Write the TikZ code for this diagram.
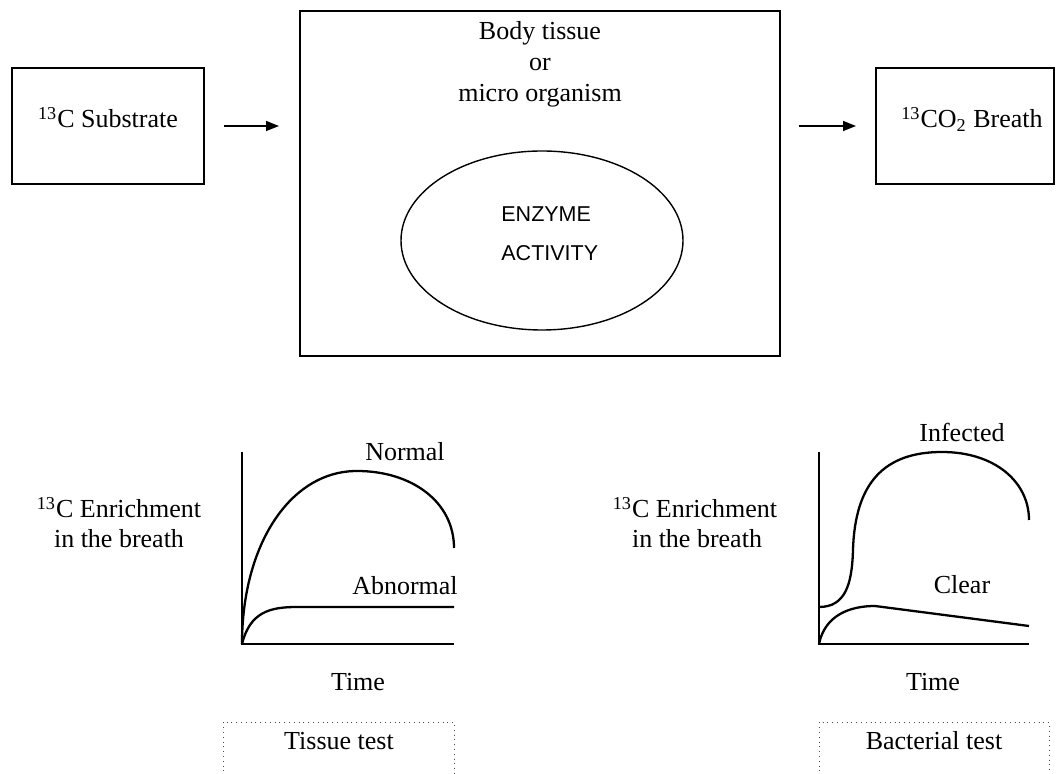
\documentclass[tikz,border=0pt]{standalone}
\usepackage{fontspec}
\setmainfont{Liberation Serif}
\newfontfamily\enzfont{Liberation Sans}
\usetikzlibrary{shapes.geometric, arrows.meta}

\tikzset{
  box/.style={draw, line width=1pt, inner sep=0pt},
  lbl/.style={inner sep=0pt, anchor=base, font=\fontsize{13}{15}\selectfont},
  arr/.style={line width=0.75pt, -{Triangle[length=6.5pt, width=5pt]}},
  axis/.style={line width=1.15pt},
  curve/.style={line width=1.15pt},
  testbox/.style={dotted, line width=0.4pt, black!70}
}

\begin{document}
\begin{tikzpicture}[x=0.5pt, y=-0.5pt]
  \useasboundingbox (0,0) rectangle (1056,774);

  % Substrate
  \node[box, minimum width=96pt, minimum height=58pt] (sub) at (108,126) {};
  \node[lbl] (subtxt) at (108,128) {\textsuperscript{13}C Substrate};

  % Body tissue
  \node[box, minimum width=240pt, minimum height=172.5pt] (body) at (540,183.5) {};
  \node[lbl] (bodyA) at (540,40) {Body tissue};
  \node[lbl] (bodyB) at (540,71) {or};
  \node[lbl] (bodyC) at (540,102) {micro organism};
  \node[draw, ellipse, line width=0.7pt, inner sep=0pt,
        minimum width=141pt, minimum height=89.5pt] (enz) at (542,240.5) {};
  \node[lbl, anchor=base west, font=\enzfont\fontsize{10.75}{13}\selectfont] (enzA) at (501,222) {ENZYME};
  \node[lbl, anchor=base west, font=\enzfont\fontsize{10.75}{13}\selectfont] (enzB) at (501,261) {ACTIVITY};

  % Breath
  \node[box, minimum width=89pt, minimum height=58pt] (breath) at (965,126) {};
  \node[lbl] (breathtxt) at (972,128) {\textsuperscript{13}CO\textsubscript{2} Breath};

  % Arrows
  \draw[arr, shorten <=9.5pt, shorten >=10pt] (sub.east) -- (sub.east -| body.west);
  \draw[arr, shorten <=9pt, shorten >=9.5pt] (body.east |- breath.west) -- (breath.west);

  % Tissue test graph
  \coordinate (o1) at (242,644);
  \draw[axis] (242,452) -- (o1) -- (454,644);
  \draw[curve] (o1) .. controls (242,545) and (290,471) .. (357,471)
                    .. controls (412,471) and (454,502) .. (454,548);
  \draw[curve] (o1) .. controls (250,612) and (270,607) .. (297,607) -- (454,607);
  \node[lbl] (normal) at (405,461) {Normal};
  \node[lbl] (abnormal) at (405,595) {Abnormal};
  \node[lbl] (ylabA) at (119,518) {\textsuperscript{13}C Enrichment};
  \node[lbl] (ylabB) at (119,548) {in the breath};
  \node[lbl] (time1) at (358,691) {Time};
  \draw[testbox] (223,776) -- (223,722) -- (454,722) -- (454,776);
  \node[lbl] (tissue) at (339,750) {Tissue test};

  % Bacterial test graph
  \coordinate (o2) at (819,644);
  \draw[axis] (819,452) -- (o2) -- (1029,644);
  \draw[curve] (819,607) .. controls (845,607) and (852,585) .. (853,550)
                         .. controls (855,482) and (885,452) .. (942,452)
                         .. controls (995,452) and (1029,482) .. (1029,520);
  \draw[curve] (o2) .. controls (825,615) and (850,606) .. (875,606) -- (1029,626);
  \node[lbl] (infected) at (962,442) {Infected};
  \node[lbl] (clear) at (962,594) {Clear};
  \node[lbl] (ylabC) at (695,518) {\textsuperscript{13}C Enrichment};
  \node[lbl] (ylabD) at (697,548) {in the breath};
  \node[lbl] (time2) at (933,691) {Time};
  \draw[testbox] (819,776) -- (819,722) -- (1049,722) -- (1049,776);
  \node[lbl] (bacterial) at (934,750) {Bacterial test};
\end{tikzpicture}
\end{document}
